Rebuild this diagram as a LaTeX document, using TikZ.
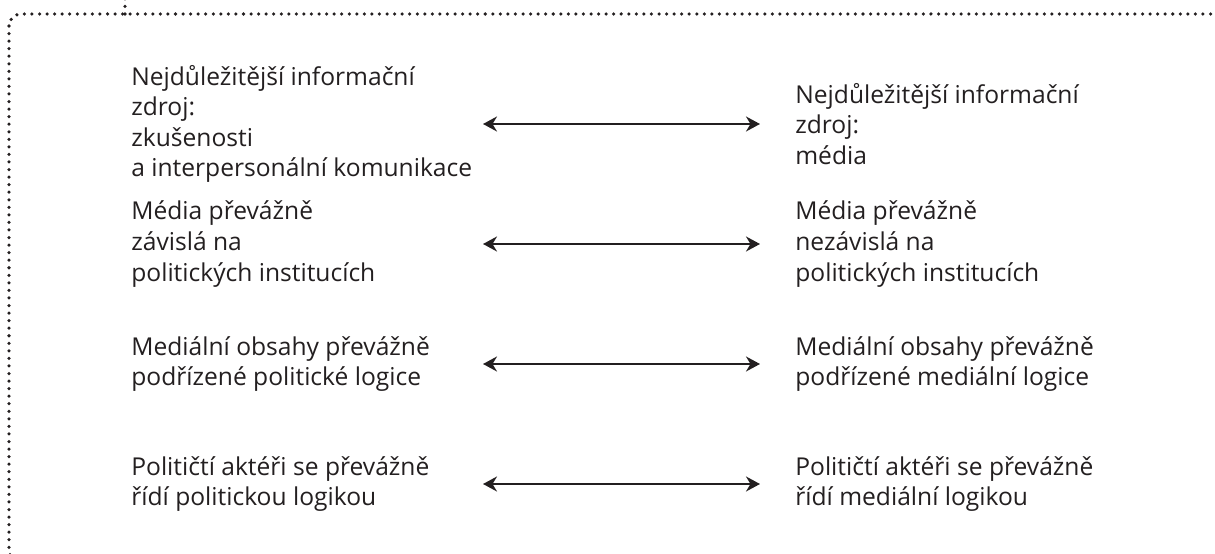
\documentclass[tikz,border=0pt]{standalone}
\usepackage{fontspec}
\setmainfont{Open Sans}
\usepackage{xcolor}
\usepackage{tikz}
\usetikzlibrary{arrows.meta, positioning}
\definecolor{ink}{HTML}{231F20}

\begin{document}
\begin{tikzpicture}[
  x=0.02cm, y=-0.02cm,
  txt/.style={anchor=west, align=left, inner sep=0pt, text=ink, font=\fontsize{14}{17.4}\selectfont},
  arrow/.style={{Stealth[length=0.28cm, width=0.3cm, inset=0.09cm]}-{Stealth[length=0.28cm, width=0.3cm, inset=0.09cm]}, line width=1.1pt, draw=ink},
  frame/.style={draw=ink, line width=2pt, line cap=round, dash pattern=on 0pt off 4.3pt, rounded corners=0.24cm}
]
  \useasboundingbox (0,0) rectangle (1215,554);
  \clip (0,0) rectangle (1215,554);

  % dotted frame
  \draw[frame] (9,14) rectangle (1224,562);
  \draw[frame] (125,14) -- (125,-6);

  % arrow ends
  \coordinate (srcA) at (483,124);
  \coordinate (srcB) at (760,124);
  \coordinate (indA) at (483,244);
  \coordinate (indB) at (760,244);
  \coordinate (cntA) at (483,364);
  \coordinate (cntB) at (760,364);
  \coordinate (actA) at (483,484);
  \coordinate (actB) at (760,484);

  % left column
  \node[txt] (srcL) at (131,124) {Nejdůležitější informační\\zdroj:\\zkušenosti\\a interpersonální komunikace};
  \node[txt] (indL) at (131,244) {Média převážně\\závislá na\\politických institucích};
  \node[txt] (cntL) at (131,364) {Mediální obsahy převážně\\podřízené politické logice};
  \node[txt] (actL) at (131,484) {Političtí aktéři se převážně\\řídí politickou logikou};

  % right column
  \node[txt] (srcR) at (795,124) {Nejdůležitější informační\\zdroj:\\média};
  \node[txt] (indR) at (795,244) {Média převážně\\nezávislá na\\politických institucích};
  \node[txt] (cntR) at (795,364) {Mediální obsahy převážně\\podřízené mediální logice};
  \node[txt] (actR) at (795,484) {Političtí aktéři se převážně\\řídí mediální logikou};

  \draw[arrow] (srcA) -- (srcB);
  \draw[arrow] (indA) -- (indB);
  \draw[arrow] (cntA) -- (cntB);
  \draw[arrow] (actA) -- (actB);
\end{tikzpicture}
\end{document}
